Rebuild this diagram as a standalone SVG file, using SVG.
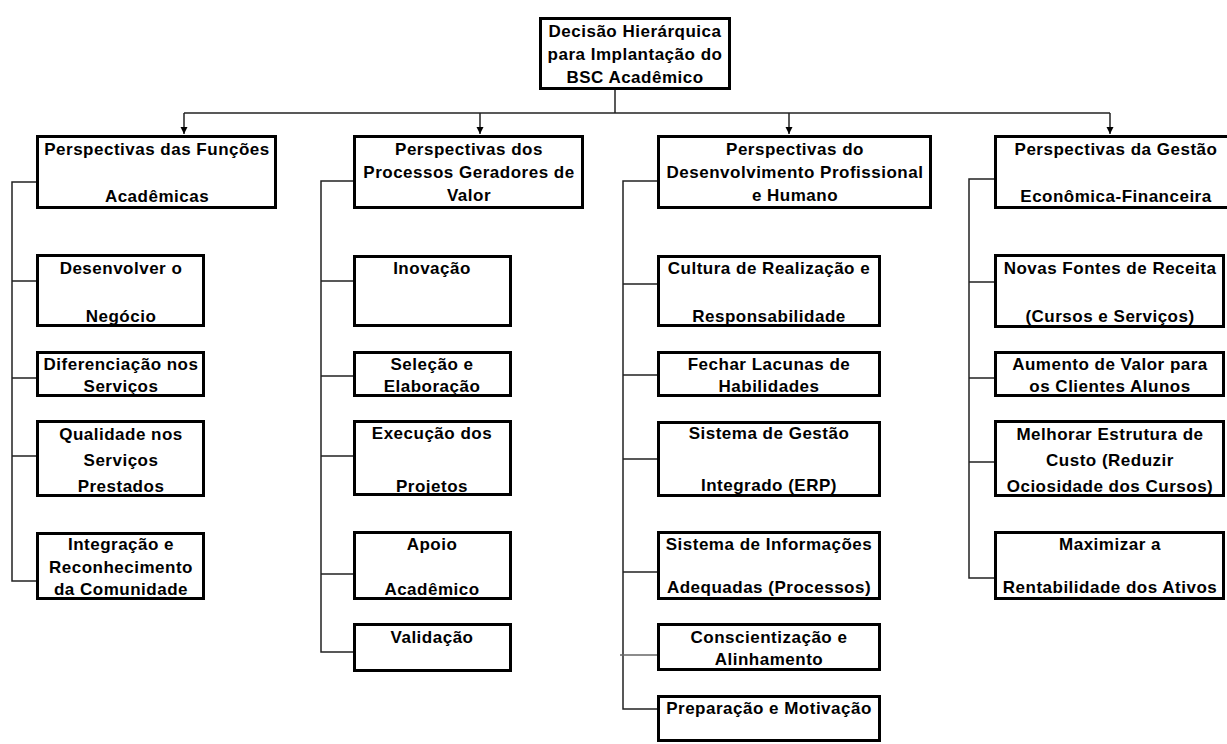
<svg xmlns="http://www.w3.org/2000/svg" width="1227" height="744" viewBox="0 0 1227 744">
  <style>
    .box { fill: #ffffff; stroke: #000000; stroke-width: 3; }
    .lbl { font-family: "Liberation Sans", Arial, sans-serif; font-size: 17px; font-weight: bold; letter-spacing: 0.5px; fill: #000000; text-anchor: middle; }
    .wire { fill: none; stroke: #222222; stroke-width: 1.5; }
  </style>
  <defs>
    <marker id="arrow" markerWidth="8" markerHeight="8" refX="4" refY="7" orient="auto" markerUnits="userSpaceOnUse">
      <path d="M0,2 L8,2 L4,8 Z" fill="#000000" transform="rotate(-90 4 4)"/>
    </marker>
    <marker id="tip" markerWidth="8" markerHeight="8" refX="7" refY="4" orient="auto" markerUnits="userSpaceOnUse">
      <path d="M0,0.5 L7,4 L0,7.5 Z" fill="#000000"/>
    </marker>
  </defs>
  <rect width="1227" height="744" fill="#ffffff"/>

  <!-- connectors -->
  <g id="connectors">
    <!-- root to the four perspectives -->
    <path class="wire" d="M615,90 V113"/>
    <path class="wire" d="M184,113 H1110"/>
    <path class="wire" d="M184,113 V134" marker-end="url(#tip)"/>
    <path class="wire" d="M480,113 V134" marker-end="url(#tip)"/>
    <path class="wire" d="M789,113 V134" marker-end="url(#tip)"/>
    <path class="wire" d="M1110,113 V134" marker-end="url(#tip)"/>
    <!-- column 1 -->
    <path class="wire" d="M37,182 H12 V581 H37"/>
    <path class="wire" d="M12,281 H37 M12,378 H37 M12,456 H37"/>
    <!-- column 2 -->
    <path class="wire" d="M354,181 H321 V652 H354"/>
    <path class="wire" d="M321,281 H354 M321,376 H354 M321,456 H354 M321,574 H354"/>
    <!-- column 3 -->
    <path class="wire" d="M658,181 H623 V709 H658"/>
    <path class="wire" d="M623,284 H658 M623,375 H658 M623,459 H658 M623,572 H658"/>
    <path d="M620,655 H658" fill="none" stroke="#666666" stroke-width="1.5"/>
    <!-- column 4 -->
    <path class="wire" d="M995,179 H969 V578 H995"/>
    <path class="wire" d="M969,282 H995 M969,378 H995 M969,462 H995"/>
  </g>

  <!-- root -->
  <g id="root">
    <rect class="box" x="540.5" y="18.5" width="189" height="70"/>
    <text class="lbl" x="635" y="37">Decisão Hierárquica</text>
    <text class="lbl" x="635" y="60">para Implantação do</text>
    <text class="lbl" x="635" y="83">BSC Acadêmico</text>
  </g>

  <!-- perspective headers -->
  <g id="p-funcoes">
    <rect class="box" x="37.5" y="136.5" width="238" height="71"/>
    <text class="lbl" x="157" y="155">Perspectivas das Funções</text>
    <text class="lbl" x="157" y="202">Acadêmicas</text>
  </g>
  <g id="p-processos">
    <rect class="box" x="354.5" y="136.5" width="228" height="71"/>
    <text class="lbl" x="469" y="155">Perspectivas dos</text>
    <text class="lbl" x="469" y="178">Processos Geradores de</text>
    <text class="lbl" x="469" y="201">Valor</text>
  </g>
  <g id="p-desenvolvimento">
    <rect class="box" x="658.5" y="136.5" width="272" height="71"/>
    <text class="lbl" x="795" y="155">Perspectivas do</text>
    <text class="lbl" x="795" y="178">Desenvolvimento Profissional</text>
    <text class="lbl" x="795" y="201">e Humano</text>
  </g>
  <g id="p-gestao">
    <rect class="box" x="995.5" y="136.5" width="242" height="71"/>
    <text class="lbl" x="1116" y="155">Perspectivas da Gestão</text>
    <text class="lbl" x="1116" y="202">Econômica-Financeira</text>
  </g>

  <!-- column 1 items -->
  <g id="c1-negocio">
    <rect class="box" x="37.5" y="255.5" width="166" height="70"/>
    <text class="lbl" x="121" y="274">Desenvolver o</text>
    <text class="lbl" x="121" y="322">Negócio</text>
  </g>
  <g id="c1-diferenciacao">
    <rect class="box" x="37.5" y="352.5" width="166" height="43"/>
    <text class="lbl" x="121" y="370">Diferenciação nos</text>
    <text class="lbl" x="121" y="392">Serviços</text>
  </g>
  <g id="c1-qualidade">
    <rect class="box" x="37.5" y="421.5" width="166" height="74"/>
    <text class="lbl" x="121" y="440">Qualidade nos</text>
    <text class="lbl" x="121" y="466">Serviços</text>
    <text class="lbl" x="121" y="492">Prestados</text>
  </g>
  <g id="c1-integracao">
    <rect class="box" x="37.5" y="533.5" width="166" height="65"/>
    <text class="lbl" x="121" y="550">Integração e</text>
    <text class="lbl" x="121" y="573">Reconhecimento</text>
    <text class="lbl" x="121" y="595">da Comunidade</text>
  </g>

  <!-- column 2 items -->
  <g id="c2-inovacao">
    <rect class="box" x="354.5" y="256.5" width="156" height="69"/>
    <text class="lbl" x="432" y="274">Inovação</text>
  </g>
  <g id="c2-selecao">
    <rect class="box" x="354.5" y="352.5" width="156" height="43"/>
    <text class="lbl" x="432" y="370">Seleção e</text>
    <text class="lbl" x="432" y="392">Elaboração</text>
  </g>
  <g id="c2-execucao">
    <rect class="box" x="354.5" y="421.5" width="156" height="73"/>
    <text class="lbl" x="432" y="439">Execução dos</text>
    <text class="lbl" x="432" y="492">Projetos</text>
  </g>
  <g id="c2-apoio">
    <rect class="box" x="354.5" y="532.5" width="156" height="66"/>
    <text class="lbl" x="432" y="550">Apoio</text>
    <text class="lbl" x="432" y="595">Acadêmico</text>
  </g>
  <g id="c2-validacao">
    <rect class="box" x="354.5" y="624.5" width="156" height="46"/>
    <text class="lbl" x="432" y="643">Validação</text>
  </g>

  <!-- column 3 items -->
  <g id="c3-cultura">
    <rect class="box" x="658.5" y="256.5" width="221" height="69"/>
    <text class="lbl" x="769" y="274">Cultura de Realização e</text>
    <text class="lbl" x="769" y="322">Responsabilidade</text>
  </g>
  <g id="c3-lacunas">
    <rect class="box" x="658.5" y="352.5" width="221" height="43"/>
    <text class="lbl" x="769" y="370">Fechar Lacunas de</text>
    <text class="lbl" x="769" y="392">Habilidades</text>
  </g>
  <g id="c3-erp">
    <rect class="box" x="658.5" y="422.5" width="221" height="73"/>
    <text class="lbl" x="769" y="439">Sistema de Gestão</text>
    <text class="lbl" x="769" y="491">Integrado (ERP)</text>
  </g>
  <g id="c3-informacoes">
    <rect class="box" x="658.5" y="532.5" width="221" height="66"/>
    <text class="lbl" x="769" y="550">Sistema de Informações</text>
    <text class="lbl" x="769" y="593">Adequadas (Processos)</text>
  </g>
  <g id="c3-conscientizacao">
    <rect class="box" x="658.5" y="624.5" width="221" height="45"/>
    <text class="lbl" x="769" y="643">Conscientização e</text>
    <text class="lbl" x="769" y="665">Alinhamento</text>
  </g>
  <g id="c3-preparacao">
    <rect class="box" x="658.5" y="696.5" width="221" height="44"/>
    <text class="lbl" x="769" y="714">Preparação e Motivação</text>
  </g>

  <!-- column 4 items -->
  <g id="c4-receita">
    <rect class="box" x="995.5" y="255.5" width="228" height="71"/>
    <text class="lbl" x="1110" y="274">Novas Fontes de Receita</text>
    <text class="lbl" x="1110" y="322">(Cursos e Serviços)</text>
  </g>
  <g id="c4-valor">
    <rect class="box" x="995.5" y="352.5" width="228" height="43"/>
    <text class="lbl" x="1110" y="370">Aumento de Valor para</text>
    <text class="lbl" x="1110" y="392">os Clientes Alunos</text>
  </g>
  <g id="c4-custo">
    <rect class="box" x="995.5" y="421.5" width="228" height="74"/>
    <text class="lbl" x="1110" y="440">Melhorar Estrutura de</text>
    <text class="lbl" x="1110" y="466">Custo (Reduzir</text>
    <text class="lbl" x="1110" y="492">Ociosidade dos Cursos)</text>
  </g>
  <g id="c4-rentabilidade">
    <rect class="box" x="995.5" y="532.5" width="228" height="66"/>
    <text class="lbl" x="1110" y="550">Maximizar a</text>
    <text class="lbl" x="1110" y="593">Rentabilidade dos Ativos</text>
  </g>
</svg>
